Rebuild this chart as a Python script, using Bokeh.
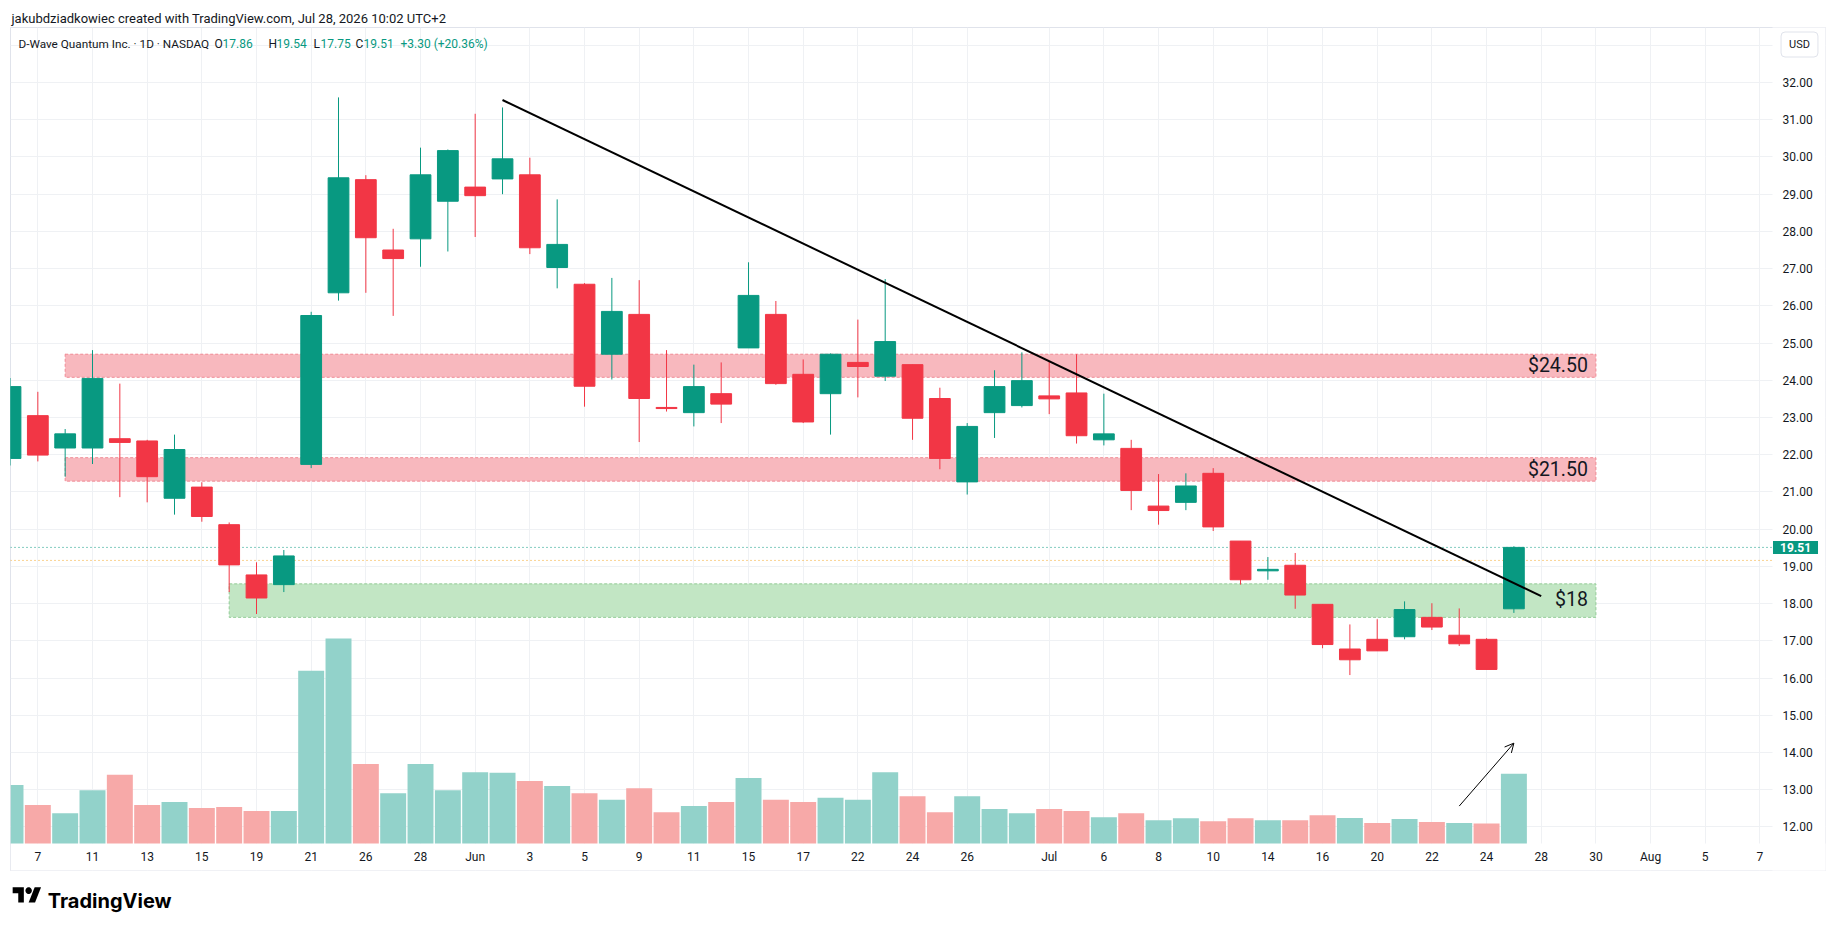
import math
from bokeh.plotting import figure
from bokeh.layouts import column
from bokeh.models import (Range1d, FixedTicker, PrintfTickFormatter, ColumnDataSource,
                          Span, Label, Arrow, OpenHead, BoxAnnotation)
from bokeh.core.properties import value
from bokeh.embed import file_html
from bokeh.resources import INLINE

# ---------------- data ----------------
dates = ["May 6", "May 7", "May 8", "May 11", "May 12", "May 13", "May 14", "May 15", "May 18",
         "May 19", "May 20", "May 21", "May 22", "May 26", "May 27", "May 28", "May 29",
         "Jun 1", "Jun 2", "Jun 3", "Jun 4", "Jun 5", "Jun 8", "Jun 9", "Jun 10", "Jun 11",
         "Jun 12", "Jun 15", "Jun 16", "Jun 17", "Jun 18", "Jun 22", "Jun 23", "Jun 24",
         "Jun 25", "Jun 26", "Jun 29", "Jun 30", "Jul 1", "Jul 2", "Jul 6", "Jul 7", "Jul 8",
         "Jul 9", "Jul 10", "Jul 13", "Jul 14", "Jul 15", "Jul 16", "Jul 17", "Jul 20",
         "Jul 21", "Jul 22", "Jul 23", "Jul 24", "Jul 27"]
opens = [21.90, 23.05, 22.18, 22.18, 22.43, 22.37, 20.83, 21.13, 20.12, 18.77, 18.51, 21.74,
         26.35, 29.39, 27.50, 27.80, 28.81, 29.19, 29.41, 29.52, 27.03, 26.58, 24.70, 25.77,
         23.27, 23.13, 23.64, 24.87, 25.77, 24.16, 23.64, 24.48, 24.11, 24.42, 23.51, 21.27,
         23.13, 23.32, 23.58, 23.66, 22.40, 22.17, 20.62, 20.72, 21.50, 19.68, 18.88, 19.03,
         17.98, 16.78, 17.04, 17.11, 17.63, 17.15, 17.04, 17.86]
highs = [24.06, 23.69, 22.69, 24.81, 23.91, 22.40, 22.54, 21.26, 20.18, 19.11, 19.44, 25.84,
         31.60, 29.51, 28.07, 30.25, 30.20, 31.16, 31.33, 29.98, 28.86, 26.61, 26.75, 26.69,
         24.81, 24.42, 24.48, 27.17, 26.13, 24.56, 24.72, 25.63, 26.72, 24.42, 23.80, 22.85,
         24.27, 24.75, 24.50, 24.70, 23.64, 22.40, 21.48, 21.50, 21.64, 19.68, 19.25, 19.36,
         17.98, 17.44, 17.58, 18.06, 18.01, 17.87, 17.07, 19.54]
lows = [21.71, 21.82, 21.41, 21.75, 20.86, 20.72, 20.39, 20.20, 18.31, 17.72, 18.31, 21.64,
        26.14, 26.35, 25.73, 27.05, 27.46, 27.85, 29.00, 27.39, 26.47, 23.29, 24.02, 22.34,
        23.16, 22.76, 22.85, 24.87, 23.88, 22.85, 22.54, 23.54, 23.98, 22.40, 21.61, 20.93,
        22.45, 23.27, 23.09, 22.30, 22.25, 20.51, 20.12, 20.51, 19.95, 18.51, 18.64, 17.86,
        16.80, 16.08, 16.73, 17.04, 17.29, 16.86, 16.23, 17.75]
closes = [23.83, 21.99, 22.56, 24.05, 22.33, 21.41, 22.14, 20.34, 19.04, 18.15, 19.28, 25.74,
          29.44, 27.83, 27.27, 29.52, 30.17, 28.96, 29.95, 27.56, 27.65, 23.84, 25.85, 23.51,
          23.24, 23.83, 23.36, 26.28, 23.91, 22.88, 24.70, 24.37, 25.04, 22.98, 21.90, 22.76,
          23.83, 23.99, 23.50, 22.51, 22.56, 21.04, 20.50, 21.16, 20.06, 18.64, 18.92, 18.23,
          16.90, 16.49, 16.73, 17.84, 17.37, 16.92, 16.23, 19.51]
volumes_m = [28.5, 18.8, 14.8, 26.0, 33.5, 18.8, 20.3, 17.3, 17.8, 15.8, 15.8, 84.3, 100.0,
             38.8, 24.5, 38.8, 26.0, 34.8, 34.5, 30.5, 28.0, 24.5, 21.3, 27.0, 15.3, 18.3,
             20.3, 32.0, 21.3, 20.3, 22.3, 21.3, 34.8, 23.0, 15.3, 23.0, 16.8, 14.8, 16.8,
             15.8, 12.8, 14.8, 11.3, 12.3, 10.8, 12.3, 11.3, 11.3, 13.8, 12.5, 10.0, 12.0,
             10.5, 10.0, 9.8, 34.0]
volume_up = [1, 0, 1, 1, 0, 0, 1, 0, 0, 0, 1, 1, 1, 0, 1, 1, 1,
             1, 1, 0, 1, 0, 1, 0, 0, 1, 0, 1, 0, 0, 1, 1, 1,
             0, 0, 1, 1, 1, 0, 0, 1, 0, 1, 1, 0, 0, 1, 0, 0,
             1, 0, 1, 0, 1, 0, 1]

# time-axis labels (bar index -> label), incl. future trading days
tick_idx = [1, 3, 5, 7, 9, 11, 13, 15, 17, 19, 21, 23, 25, 27, 29, 31, 33, 35, 38, 40, 42,
            44, 46, 48, 50, 52, 54, 56, 58, 60, 62, 64]
tick_txt = ["7", "11", "13", "15", "19", "21", "26", "28", "Jun", "3", "5", "9", "11", "15",
            "17", "22", "24", "26", "Jul", "6", "8", "10", "14", "16", "20", "22", "24", "28",
            "30", "Aug", "5", "7"]
price_ticks = list(range(12, 33))

# zones drawn on the chart
zone_left = [2, 2, 8]
zone_right = [58, 58, 58]
zone_bottom = [24.08, 21.29, 17.63]
zone_top = [24.70, 21.92, 18.53]
zone_text = ["$24.50", "$21.50", "$18"]
zone_text_y = [24.39, 21.60, 18.10]

# trend line and arrow
trend_x = [18, 56]
trend_y = [31.53, 18.20]
arrow_x = [53, 55]
arrow_y = [12.56, 14.25]

last_price = 19.51
ext_price = 19.16

# ---------------- style ----------------
UP = "#089981"
DOWN = "#f23645"
VUP = "#92d2ca"
VDOWN = "#f7a9a8"
TXT = "#131722"
GRID = "#eff1f4"
FONT = "Roboto"

X_RIGHT_PANE = 64.465      # x where the price pane ends and price scale begins
Y_BOTTOM_PANE = 11.554     # y where the price pane ends and time scale begins

p = figure(width=1827, height=872, x_range=Range1d(0, 66.40), y_range=Range1d(10.829, 33.478),
           output_backend="svg", toolbar_location=None, y_axis_location="right",
           min_border_left=10, min_border_right=2, min_border_top=27, min_border_bottom=2)
p.outline_line_color = "#e0e3eb"
p.outline_line_width = 1
p.background_fill_color = "white"
p.border_fill_color = "white"
p.extra_y_ranges = {"vol": Range1d(-13.18, 398.2)}

# header as title
p.title.text = "jakubdziadkowiec created with TradingView.com, Jul 28, 2026 10:02 UTC+2"
p.title.align = "left"
p.title.offset = 1
p.title.standoff = 4
p.title.text_font = FONT
p.title.text_font_size = "13px"
p.title.text_font_style = "normal"
p.title.text_color = TXT

# axes
xa = p.xaxis[0]
xa.ticker = FixedTicker(ticks=tick_idx)
xa.major_label_overrides = {i: t for i, t in zip(tick_idx, tick_txt)}
xa.fixed_location = Y_BOTTOM_PANE
ya = p.yaxis[0]
ya.ticker = FixedTicker(ticks=price_ticks)
ya.formatter = PrintfTickFormatter(format="%.2f")
ya.fixed_location = X_RIGHT_PANE
for ax in (xa, ya):
    ax.axis_line_color = None
    ax.major_tick_line_color = None
    ax.minor_tick_line_color = None
    ax.major_tick_out = 0
    ax.major_tick_in = 0
    ax.major_label_text_font = FONT
    ax.major_label_text_font_size = "12px"
    ax.major_label_text_color = TXT
xa.major_label_standoff = 6
ya.major_label_standoff = 10

p.xgrid.ticker = FixedTicker(ticks=tick_idx)
p.ygrid.ticker = FixedTicker(ticks=list(range(12, 34)))
p.xgrid.grid_line_color = GRID
p.ygrid.grid_line_color = GRID

# last / extended price lines
p.add_layout(Span(location=last_price, dimension="width", line_color=UP, line_dash="1 3",
                  line_width=1, level="underlay"))
p.add_layout(Span(location=ext_price, dimension="width", line_color="#f5a623", line_dash="1 3",
                  line_width=1, level="underlay"))

# white covers for the price scale and time scale areas
p.add_layout(BoxAnnotation(left=1762, right=1816, bottom=-1, top=844, left_units="screen",
                           right_units="screen", bottom_units="screen", top_units="screen",
                           fill_color="white", fill_alpha=1, line_color=None, level="underlay"))
p.add_layout(BoxAnnotation(left=0, right=1816, bottom=-1, top=27, left_units="screen",
                           right_units="screen", bottom_units="screen", top_units="screen",
                           fill_color="white", fill_alpha=1, line_color=None, level="underlay"))

# data source
idx = list(range(len(dates)))
src = ColumnDataSource(dict(
    x=idx, date=dates, o=opens, h=highs, l=lows, c=closes,
    top=[max(a, b) for a, b in zip(opens, closes)],
    bottom=[min(a, b) for a, b in zip(opens, closes)],
    color=[UP if c >= o else DOWN for o, c in zip(opens, closes)],
    vol=volumes_m,
    vcolor=[VUP if u else VDOWN for u in volume_up],
))

# volume
p.vbar(x="x", width=0.95, top="vol", bottom=0, y_range_name="vol", source=src,
       fill_color="vcolor", line_color=None)

# zones
zsrc = ColumnDataSource(dict(left=zone_left, right=zone_right, bottom=zone_bottom, top=zone_top,
                             fill=["#f8b8be", "#f8b8be", "#c2e6c4"],
                             line=["#f08a94", "#f08a94", "#93cc97"]))
p.quad(left="left", right="right", bottom="bottom", top="top", source=zsrc,
       fill_color="fill", line_color="line", line_dash="3 2", line_width=1)

# candles
p.segment(x0="x", y0="h", x1="x", y1="l", source=src, line_color="color", line_width=1)
p.vbar(x="x", width=0.76, top="top", bottom="bottom", source=src,
       fill_color="color", line_color="color", line_width=1)

# trend line & arrow
p.line(trend_x, trend_y, line_color="black", line_width=2)
p.add_layout(Arrow(end=OpenHead(size=9, line_width=1, line_color="black"),
                   x_start=arrow_x[0], y_start=arrow_y[0], x_end=arrow_x[1], y_end=arrow_y[1],
                   line_width=1, line_color="black"))

# zone labels
tsrc = ColumnDataSource(dict(x=zone_right, y=zone_text_y, t=zone_text))
p.text(x="x", y="y", text="t", source=tsrc, text_align="right", text_baseline="middle",
       x_offset=-8, text_font=value(FONT), text_font_size="19.5px", text_color=TXT)

# legend line
legend_parts = [(8, "D-Wave Quantum Inc. · 1D · NASDAQ", TXT), (204, "O", TXT), (212, "17.86", UP),
                (258, "H", TXT), (266, "19.54", UP), (303, "L", TXT), (310, "17.75", UP),
                (345, "C", TXT), (353, "19.51", UP), (390, "+3.30 (+20.36%)", UP)]
for lx, lt, lc in legend_parts:
    p.add_layout(Label(x=lx, y=827, x_units="screen", y_units="screen", text=lt,
                       text_font=FONT, text_font_size="11.75px" if lx == 8 else "12px",
                       text_color=lc, text_baseline="middle"))

# USD box
p.add_layout(Label(x=1789, y=826, x_units="screen", y_units="screen", text="USD",
                   text_font=FONT, text_font_size="11px", text_color=TXT, text_align="center",
                   text_baseline="middle", background_fill_color="white",
                   border_line_color="#e0e3eb",
                   padding=dict(left=8, right=8, top=6, bottom=6), border_radius=4))

# last price tag on the price scale
p.add_layout(Label(x=1785, y=last_price, x_units="screen", y_units="data", text="19.51",
                   text_font=FONT, text_font_size="12px", text_font_style="bold",
                   text_color="white", text_align="center", text_baseline="middle",
                   background_fill_color=UP, padding=dict(left=7, right=7, top=2, bottom=2)))

# ---------------- logo strip ----------------
lg = figure(width=200, height=50, x_range=Range1d(0, 200), y_range=Range1d(50, 0),
            output_backend="svg", toolbar_location=None, title=None,
            x_axis_location=None, y_axis_location=None,
            min_border_left=0, min_border_right=0, min_border_top=0, min_border_bottom=0)
lg.grid.visible = False
lg.outline_line_color = None
lg.background_fill_color = "white"
lg.border_fill_color = "white"
logo_t_x = [2.3, 14.2, 14.2, 8.25, 8.25, 2.3]
logo_t_y = [14.7, 14.7, 30.0, 30.0, 20.65, 20.65]
logo_p_x = [26.1, 19.3, 25.7, 32.5]
logo_p_y = [30.0, 30.0, 14.7, 14.7]
lg.patch(logo_t_x, logo_t_y, fill_color="black", line_color=None)
lg.patch(logo_p_x, logo_p_y, fill_color="black", line_color=None)
circ_x = [19.3 + 3.4 * math.cos(a * math.pi / 12) for a in range(24)]
circ_y = [18.1 + 3.4 * math.sin(a * math.pi / 12) for a in range(24)]
lg.patch(circ_x, circ_y, fill_color="black", line_color=None)
lg.add_layout(Label(x=39.6, y=28.5, text="TradingView", text_font="Inter", text_font_size="20px",
                    text_font_style="bold", text_color="black", text_baseline="alphabetic"))

layout = column(p, lg, spacing=0)
open("out.html", "w").write(file_html(layout, INLINE))
